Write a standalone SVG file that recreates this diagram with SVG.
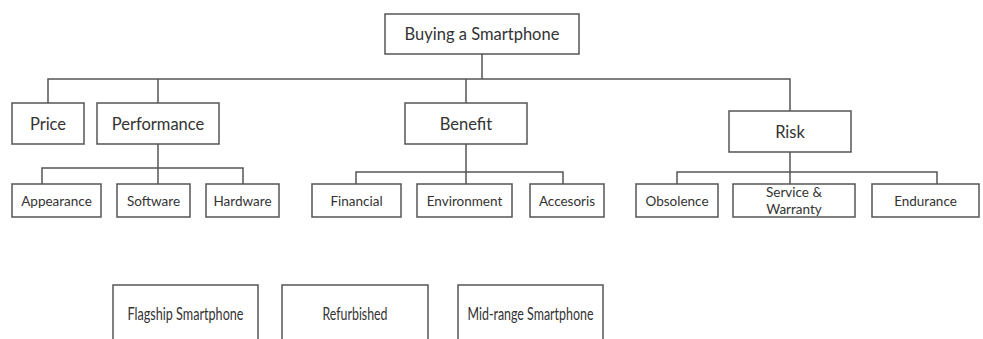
<svg xmlns="http://www.w3.org/2000/svg" width="983" height="339" viewBox="0 0 983 339">
<style>
rect{fill:#fff;stroke:#555;stroke-width:1.5}
.c line,.c path{stroke:#555;stroke-width:1.5;fill:none}
text{font-family:Lato,"Liberation Sans",sans-serif;fill:#333;text-anchor:middle;dominant-baseline:central}
.l{font-size:16.5px}
.s{font-size:13.5px}
.b{font-size:17.5px}
</style>
<rect x="0" y="0" width="983" height="339" style="fill:#fff;stroke:none"/>
<g class="c" id="connectors">
<line x1="482" y1="54" x2="482" y2="79"/>
<path d="M48 103V79H790V111"/>
<line x1="158" y1="79" x2="158" y2="103"/>
<line x1="466" y1="79" x2="466" y2="103"/>
<path d="M42 184V168H243V184"/>
<line x1="158" y1="144" x2="158" y2="184"/>
<path d="M356 184V172H563V184"/>
<line x1="466" y1="144" x2="466" y2="184"/>
<path d="M677 184V172H937V184"/>
<line x1="790" y1="152" x2="790" y2="184"/>
</g>
<g id="root"><rect x="385" y="14" width="194" height="40"/><text class="l" x="482" y="34">Buying a Smartphone</text></g>
<g id="price"><rect x="12" y="103" width="72" height="41"/><text class="l" x="48" y="123.5">Price</text></g>
<g id="performance"><rect x="97" y="103" width="122" height="41"/><text class="l" x="158" y="123.5">Performance</text></g>
<g id="benefit"><rect x="405" y="103" width="122" height="41"/><text class="l" x="466" y="123.5">Benefit</text></g>
<g id="risk"><rect x="729" y="111" width="122" height="41"/><text class="l" x="790" y="131.5">Risk</text></g>
<g id="appearance"><rect x="12" y="184" width="89" height="33"/><text class="s" x="56.5" y="200.5">Appearance</text></g>
<g id="software"><rect x="117" y="184" width="73" height="33"/><text class="s" x="153.5" y="200.5">Software</text></g>
<g id="hardware"><rect x="206" y="184" width="73" height="33"/><text class="s" x="242.5" y="200.5">Hardware</text></g>
<g id="financial"><rect x="312" y="184" width="89" height="33"/><text class="s" x="356.5" y="200.5">Financial</text></g>
<g id="environment"><rect x="417" y="184" width="95" height="33"/><text class="s" x="464.5" y="200.5">Environment</text></g>
<g id="accesoris"><rect x="530" y="184" width="74" height="33"/><text class="s" x="567" y="200.5">Accesoris</text></g>
<g id="obsolence"><rect x="636" y="184" width="82" height="33"/><text class="s" x="677" y="200.5">Obsolence</text></g>
<g id="service"><rect x="733" y="184" width="122" height="33"/><text class="s" x="794" y="192">Service &amp;</text><text class="s" x="794" y="209">Warranty</text></g>
<g id="endurance"><rect x="872" y="184" width="107" height="33"/><text class="s" x="925.5" y="200.5">Endurance</text></g>
<g id="flagship"><rect x="113" y="285" width="145" height="60"/><text class="b" x="185.5" y="313.5" textLength="116" lengthAdjust="spacingAndGlyphs">Flagship Smartphone</text></g>
<g id="refurbished"><rect x="282" y="285" width="146" height="60"/><text class="b" x="355" y="313.5" textLength="65" lengthAdjust="spacingAndGlyphs">Refurbished</text></g>
<g id="midrange"><rect x="458" y="285" width="145" height="60"/><text class="b" x="530.5" y="313.5" textLength="126" lengthAdjust="spacingAndGlyphs">Mid-range Smartphone</text></g>
</svg>
